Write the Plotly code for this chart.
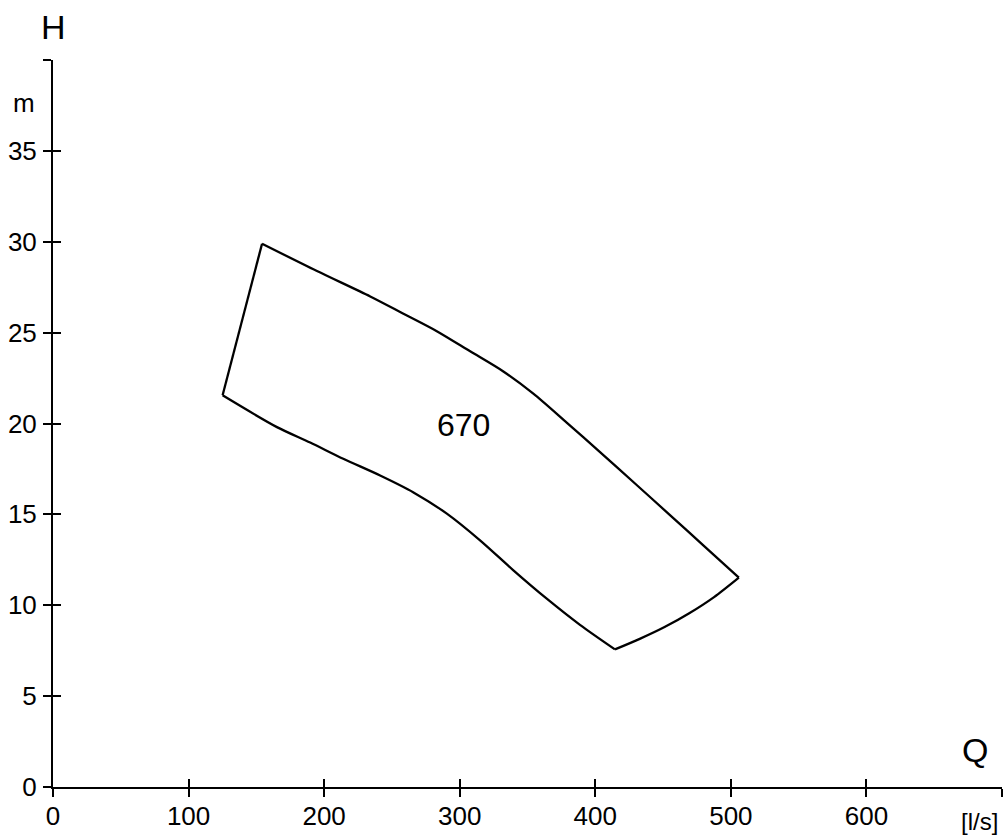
import plotly.graph_objects as go

# Data
top_q = [154.2, 194.7, 234.0, 258.5, 283.1, 307.7, 332.2, 354.3, 378.9, 403.5, 429.3, 455.1, 480.5, 505.9]
top_h = [29.89, 28.39, 26.99, 26.04, 25.08, 23.97, 22.86, 21.64, 20.05, 18.43, 16.70, 14.96, 13.24, 11.52]
right_q = [505.9, 487.6, 469.3, 451.1, 432.8, 414.5]
right_h = [11.52, 10.45, 9.56, 8.80, 8.15, 7.57]
bottom_q = [414.5, 388.7, 364.2, 339.6, 315.0, 290.5, 265.9, 241.3, 214.1, 189.7, 165.2, 125.1]
bottom_h = [7.57, 8.92, 10.36, 11.92, 13.57, 15.04, 16.21, 17.14, 18.06, 18.95, 19.80, 21.55]
left_q = [125.1, 154.2]
left_h = [21.55, 29.89]

x_ticks = [0, 100, 200, 300, 400, 500, 600, 700]
x_labels = ["0", "100", "200", "300", "400", "500", "600", ""]
y_ticks = [0, 5, 10, 15, 20, 25, 30, 35, 40]
y_labels = ["0", "5", "10", "15", "20", "25", "30", "35", ""]

curve_label = "670"
curve_label_pos = (303, 19.9)

FONT = "Liberation Sans, Arial, sans-serif"

fig = go.Figure()
for qs, hs, shape in [(top_q, top_h, "spline"), (right_q, right_h, "spline"),
                      (bottom_q, bottom_h, "spline"), (left_q, left_h, "linear")]:
    fig.add_trace(go.Scatter(x=qs, y=hs, mode="lines",
                             line=dict(color="black", width=2.3, shape=shape, smoothing=0.8),
                             cliponaxis=False, showlegend=False, hoverinfo="skip"))
# invisible trace for overlay axes (inner half of crossing ticks)
fig.add_trace(go.Scatter(x=[0], y=[0], xaxis="x2", yaxis="y2", mode="markers",
                         marker=dict(opacity=0), showlegend=False, hoverinfo="skip"))

axis_common = dict(showgrid=False, zeroline=False, tickcolor="black", tickwidth=1.5,
                   ticklen=8, tickfont=dict(family=FONT, size=26, color="black"))

fig.update_layout(
    width=1003, height=835,
    margin=dict(l=52.5, r=1.3, t=59.5, b=48.3, autoexpand=False),
    paper_bgcolor="white", plot_bgcolor="white",
    xaxis=dict(range=[0, 700], tickmode="array", tickvals=x_ticks, ticktext=x_labels,
               ticks="outside", showline=True, linecolor="black", linewidth=2,
               ticklabelstandoff=-3, automargin=False, **axis_common),
    yaxis=dict(range=[0, 40], tickmode="array", tickvals=y_ticks, ticktext=y_labels,
               ticks="outside", showline=True, linecolor="black", linewidth=2,
               ticklabelstandoff=1, automargin=False, **axis_common),
    xaxis2=dict(range=[0, 700], overlaying="x", anchor="y2", tickmode="array", tickvals=x_ticks,
                ticks="inside", showticklabels=False, showline=False, **axis_common),
    yaxis2=dict(range=[0, 40], overlaying="y", anchor="x2", tickmode="array", tickvals=y_ticks,
                ticks="inside", showticklabels=False, showline=False, **axis_common),
    annotations=[
        dict(x=curve_label_pos[0], y=curve_label_pos[1], xref="x", yref="y", text=curve_label,
             showarrow=False, font=dict(family=FONT, size=32, color="black")),
        dict(x=53, y=835 - 26, xref="paper", yref="paper", text="H", showarrow=False,
             font=dict(family=FONT, size=34, color="black")),
        dict(x=23, y=835 - 103, xref="paper", yref="paper", text="m", showarrow=False,
             font=dict(family=FONT, size=26, color="black")),
        dict(x=975, y=835 - 750, xref="paper", yref="paper", text="Q", showarrow=False,
             font=dict(family=FONT, size=34, color="black")),
        dict(x=979, y=835 - 821, xref="paper", yref="paper", text="[l/s]", showarrow=False,
             font=dict(family=FONT, size=24, color="black")),
    ],
)

# convert pixel-based annotation positions to paper coordinates
pw = 1003 - 52.5 - 1.3
ph = 835 - 59.5 - 48.3
for a in fig.layout.annotations:
    a.xanchor = "center"
    a.yanchor = "middle"
    if a.xref == "paper":
        a.x = (a.x - 52.5) / pw
        a.y = (a.y - 48.3) / ph

fig.write_html("out.html", config={"displayModeBar": False},
               post_script="document.body.style.margin='0';document.body.style.overflow='hidden';")
